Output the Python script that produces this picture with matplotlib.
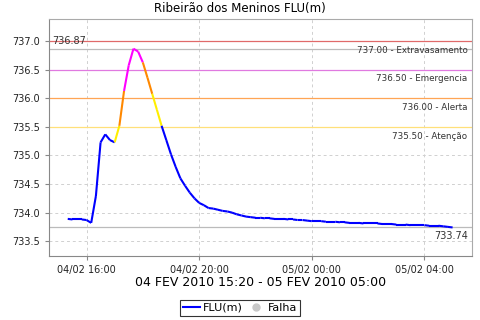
import numpy as np
import pandas as pd
import matplotlib
matplotlib.use("Agg")
import matplotlib.pyplot as plt
import matplotlib.dates as mdates
from matplotlib.lines import Line2D

# nivel do rio FLU(m), leituras a cada 10 minutos
inicio = "2010-02-04 15:20"
nivel = [733.89, 733.88, 733.88, 733.88, 733.87, 733.82, 734.29, 735.23, 735.37, 735.27,
         735.23, 735.52, 736.13, 736.58, 736.87, 736.82, 736.63, 736.36, 736.08, 735.80,
         735.52, 735.27, 735.02, 734.80, 734.60, 734.47, 734.35, 734.25, 734.17, 734.13,
         734.08, 734.07, 734.05, 734.03, 734.02, 734.00, 733.97, 733.95, 733.93, 733.92,
         733.91, 733.91, 733.90, 733.90, 733.89, 733.89, 733.89, 733.88, 733.88, 733.87,
         733.87, 733.86, 733.85, 733.85, 733.85, 733.84, 733.84, 733.84, 733.83, 733.83,
         733.82, 733.82, 733.82, 733.81, 733.81, 733.81, 733.81, 733.80, 733.80, 733.80,
         733.79, 733.79, 733.79, 733.78, 733.78, 733.78, 733.78, 733.77, 733.77, 733.77,
         733.76, 733.75, 733.74]
horas = pd.date_range(inicio, periods=len(nivel), freq="10min")

cotas = [737.0, 736.5, 736.0, 735.5]
nomes = ["Extravasamento", "Emergencia", "Alerta", "Atenção"]
cores_cota = ["#e06a6a", "#e07ae0", "#ffa555", "#ffe07a"]
cores_linha = ["#ff00ff", "#ff8800", "#ffee00"]  # acima de 736.5, 736.0, 735.5

maximo = max(nivel)
minimo = nivel[-1]


def cor(v):
    if v >= 736.5:
        return cores_linha[0]
    if v >= 736.0:
        return cores_linha[1]
    if v >= 735.5:
        return cores_linha[2]
    return "#0000ff"


fig = plt.figure(figsize=(4.8, 3.2), dpi=100)
ax = fig.add_axes([0.102, 0.2, 0.881, 0.7406])

ax.grid(True, color="#d0d0d0", linestyle=(0, (3, 3)), linewidth=0.7)
ax.set_axisbelow(True)

for c, n, col in zip(cotas, nomes, cores_cota):
    ax.axhline(c, color=col, lw=0.9, zorder=1)
    ax.text(0.99, c - 0.08, f"{c:.2f} - {n}", transform=ax.get_yaxis_transform(),
            ha="right", va="top", fontsize=6.3, color="#333333")

ax.axhline(maximo, color="#bbbbbb", lw=0.9, zorder=1)
ax.axhline(minimo, color="#bbbbbb", lw=0.9, zorder=1)
ax.text(0.008, maximo + 0.04, f"{maximo:.2f}", transform=ax.get_yaxis_transform(),
        ha="left", va="bottom", fontsize=7, color="#333333")
ax.text(0.99, minimo - 0.07, f"{minimo:.2f}", transform=ax.get_yaxis_transform(),
        ha="right", va="top", fontsize=7, color="#333333")

for i in range(1, len(nivel)):
    ax.plot(horas[i - 1:i + 1], nivel[i - 1:i + 1], color=cor(nivel[i]), lw=1.5,
            solid_capstyle="butt", zorder=3)

ax.set_ylim(733.24, 737.39)
ax.set_yticks(np.arange(733.5, 737.01, 0.5))
ax.yaxis.set_major_formatter(plt.FormatStrFormatter("%.1f"))
ax.set_xlim(pd.Timestamp("2010-02-04 14:40"), pd.Timestamp("2010-02-05 05:41"))
ax.xaxis.set_major_locator(mdates.HourLocator(byhour=[0, 4, 8, 12, 16, 20]))
ax.xaxis.set_major_formatter(mdates.DateFormatter("%d/%m %H:%M"))
ax.tick_params(labelsize=7, colors="#888888", labelcolor="#222222", length=3, width=0.8)

for s in ax.spines.values():
    s.set_color("#aaaaaa")
ax.spines["left"].set_color("#888888")
ax.spines["bottom"].set_color("#888888")

fig.text(0.5, 0.995, "Ribeirão dos Meninos FLU(m)", ha="center", va="top", fontsize=8.5)
ax.set_xlabel("04 FEV 2010 15:20 - 05 FEV 2010 05:00", fontsize=9, labelpad=1)

handles = [Line2D([], [], color="#0000ff", lw=1.5),
           Line2D([], [], color="#c8c8c8", marker="o", ls="", markersize=5)]
leg = fig.legend(handles, ["FLU(m)", "Falha"], loc="lower center", bbox_to_anchor=(0.5, 0.005),
                 ncol=2, fontsize=8, frameon=True, fancybox=False, handlelength=1.5,
                 handletextpad=0.3, columnspacing=0.4, borderpad=0.3, borderaxespad=0.2)
leg.get_frame().set_edgecolor("black")
leg.get_frame().set_linewidth(0.8)

fig.savefig("out.png", dpi=100)
